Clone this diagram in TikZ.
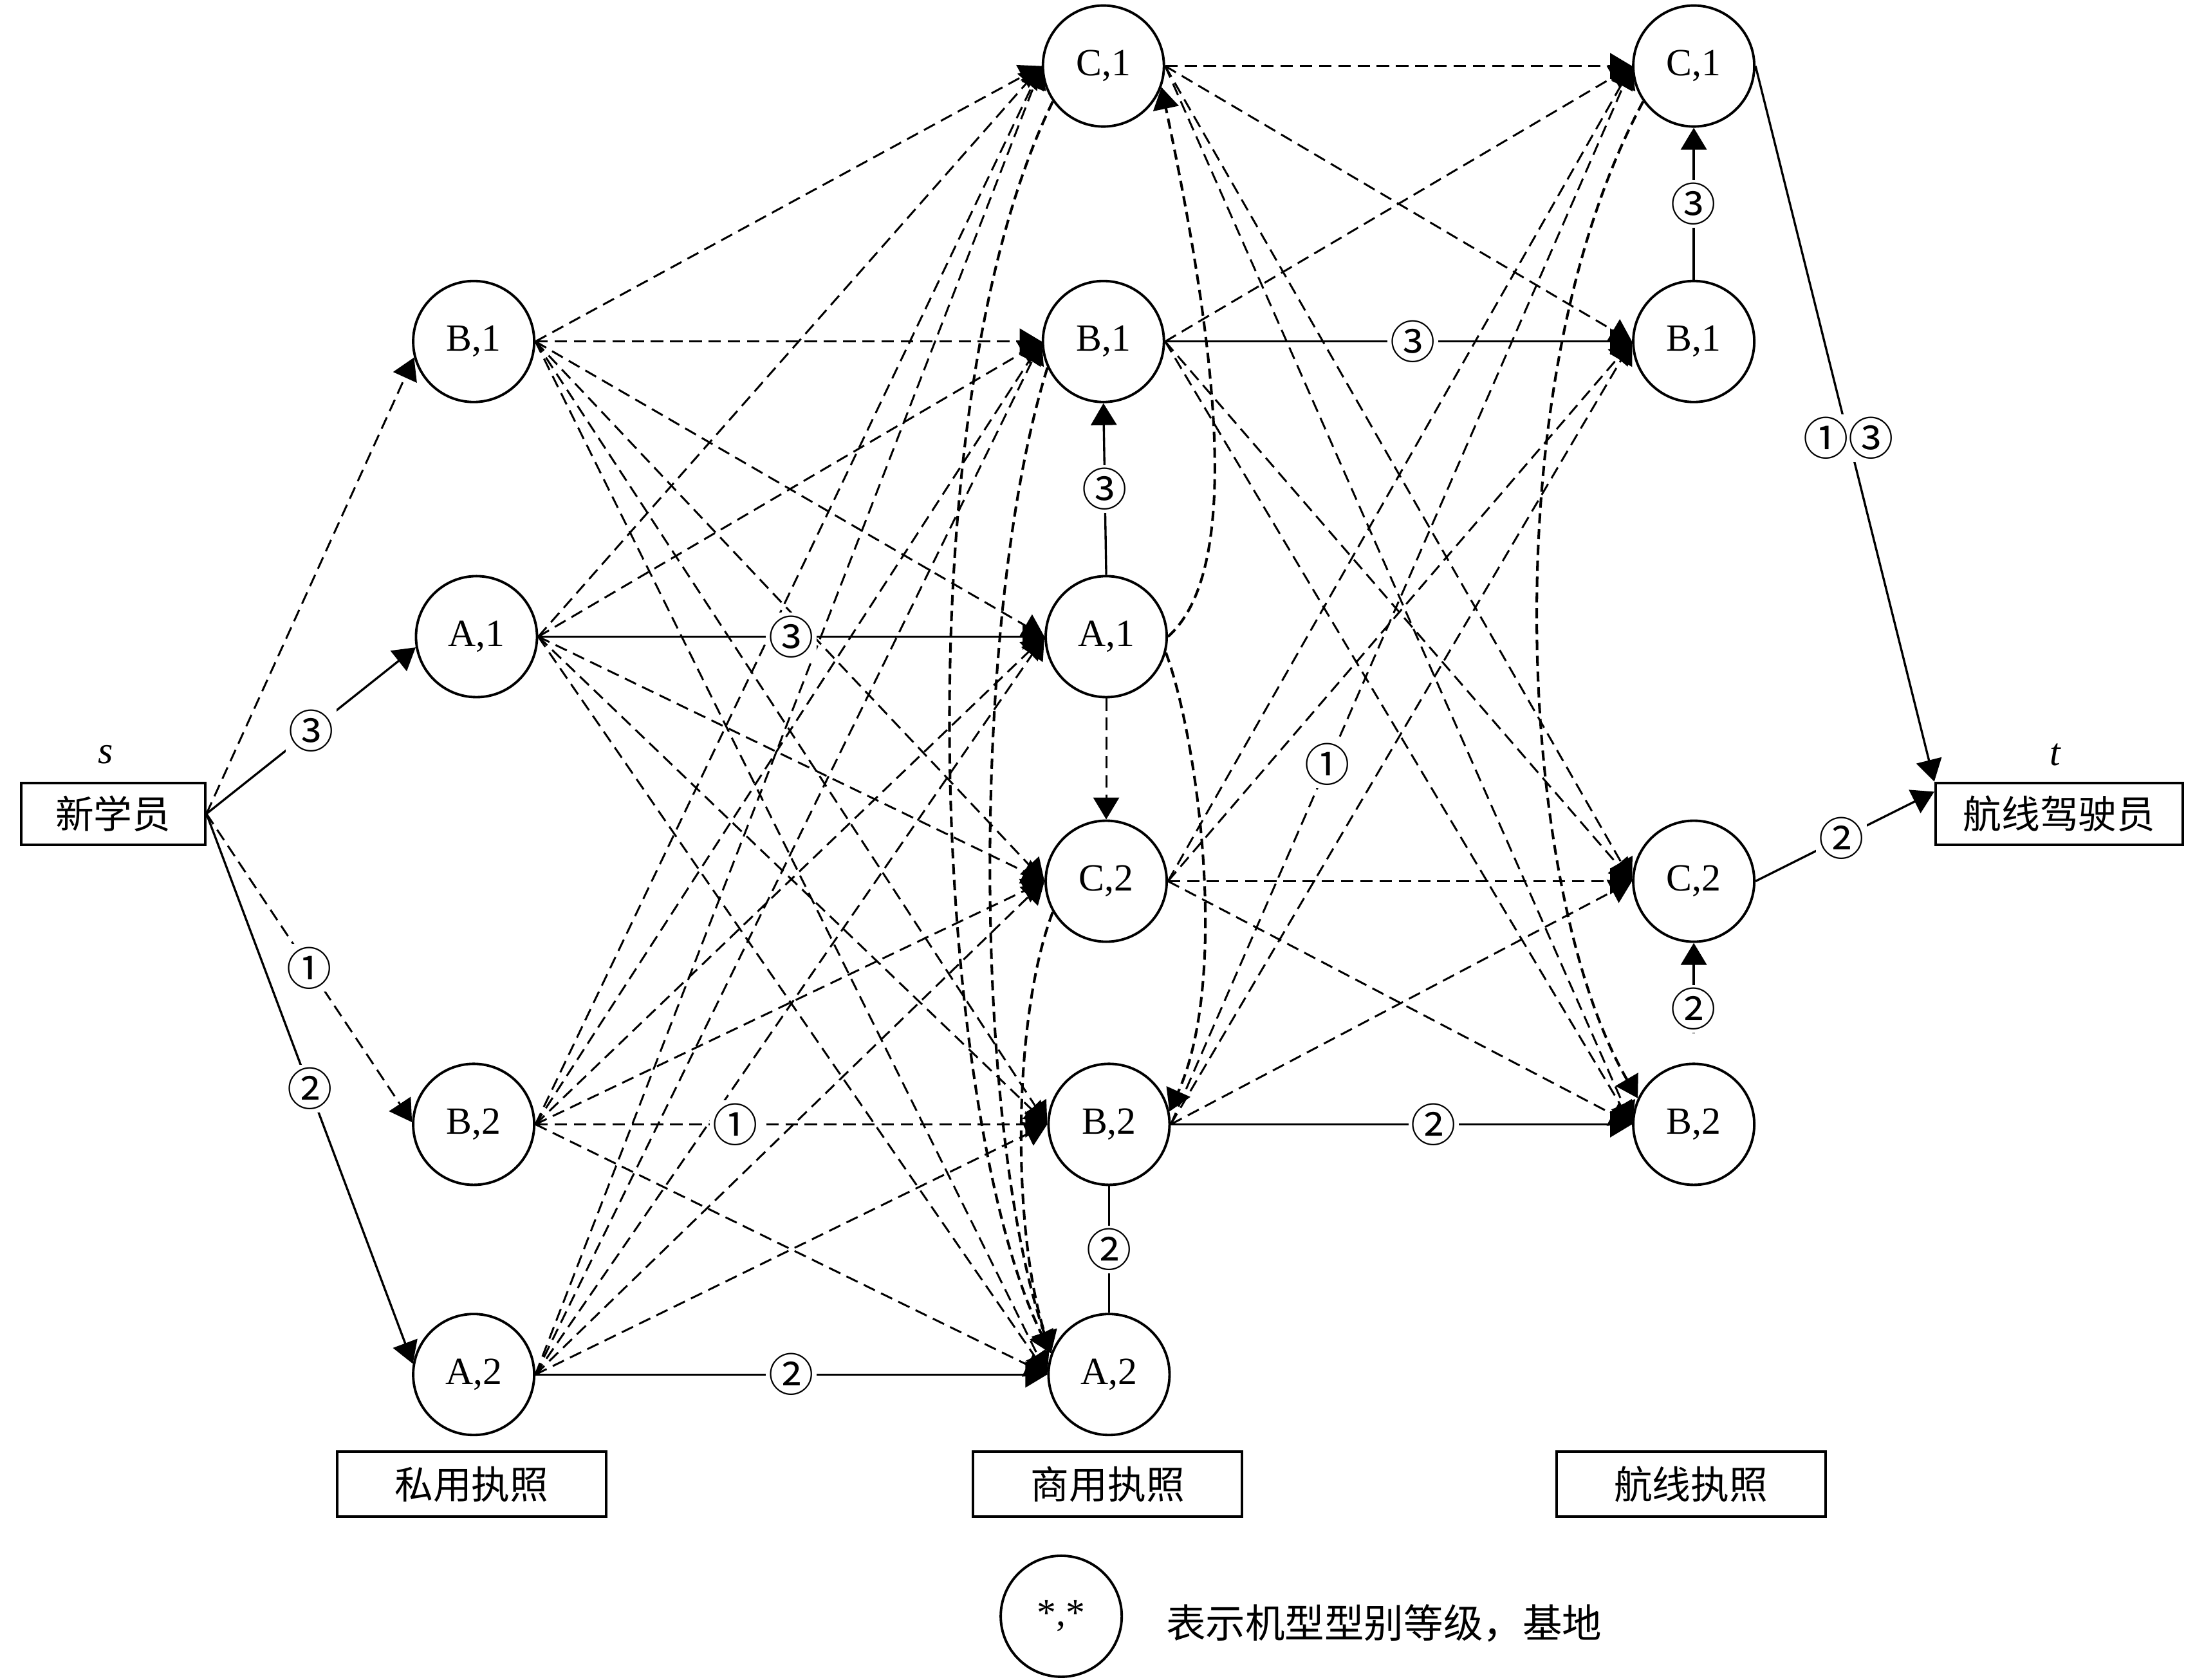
\documentclass[tikz,border=0pt]{standalone}
\usepackage{fontspec}
\setmainfont{Liberation Serif}
\newfontfamily\cjk{Noto Sans CJK SC}
\usetikzlibrary{arrows.meta}
\begin{document}
\begin{tikzpicture}[x=0.02184cm, y=0.02184cm,
  st/.style={circle, draw, line width=1.1pt, minimum size=1.88cm, inner sep=0pt, font=\fontsize{17}{20}\selectfont},
  bx/.style={draw, line width=1.1pt, inner sep=0pt, font=\cjk\fontsize{17}{20}\selectfont},
  lab/.style={fill=white, inner sep=1.2pt, font=\cjk\fontsize{20}{22}\selectfont},
  arr/.style={-{Triangle[length=0.34cm,width=0.40cm]}},
  dl/.style={arr, line width=0.85pt, dash pattern=on 5.5pt off 3pt},
  sl/.style={arr, line width=0.95pt},
  cl/.style={arr, line width=1.15pt, dash pattern=on 4.5pt off 2.5pt},
  it/.style={font=\itshape\fontsize{17}{20}\selectfont}
]
\useasboundingbox (0,0) rectangle (1568,1195);

% boxes
\node[bx, minimum width=2.861cm, minimum height=0.961cm] (s) at (80.5,616) {新学员};
\node[it] (slab) at (75,658) {s};
\node[bx, minimum width=3.844cm, minimum height=0.961cm] (t) at (1465,616) {航线驾驶员};
\node[it] (tlab) at (1462,658) {t};

% private
\node[st] (pB1) at (337,952) {B,1};
\node[st] (pA1) at (339,742) {A,1};
\node[st] (pB2) at (337,395) {B,2};
\node[st] (pA2) at (337,217) {A,2};
% commercial
\node[st] (cC1) at (785,1148) {C,1};
\node[st] (cB1) at (785,952) {B,1};
\node[st] (cA1) at (787,742) {A,1};
\node[st] (cC2) at (787,568) {C,2};
\node[st] (cB2) at (789,395) {B,2};
\node[st] (cA2) at (789,217) {A,2};
% airline
\node[st] (aC1) at (1205,1148) {C,1};
\node[st] (aB1) at (1205,952) {B,1};
\node[st] (aC2) at (1205,568) {C,2};
\node[st] (aB2) at (1205,395) {B,2};

% license boxes
\node[bx, minimum width=4.18cm, minimum height=1.005cm] (lp) at (335.5,139) {私用执照};
\node[bx, minimum width=4.18cm, minimum height=1.005cm] (lc) at (788,139) {商用执照};
\node[bx, minimum width=4.18cm, minimum height=1.005cm] (la) at (1203,139) {航线执照};

% legend
\node[st] (leg) at (755,45) {*,*};
\node[anchor=west, font=\cjk\fontsize{17.5}{20}\selectfont] (legt) at (824,40) {表示机型型别等级，基地};

% s -> private
\draw[dl] (s.east) -- (pB1.195);
\draw[sl] (s.east) -- node[lab]{③} (pA1.190);
\draw[dl] (s.east) -- node[lab]{①} (pB2.178);
\draw[sl] (s.east) -- node[lab]{②} (pA2.170);

% private -> commercial
\foreach \a/\b in {pB1/cC1,pB1/cB1,pB1/cA1,pB1/cC2,pB1/cB2,pB1/cA2,
                   pA1/cC1,pA1/cB1,pA1/cC2,pA1/cB2,pA1/cA2,
                   pB2/cC1,pB2/cB1,pB2/cA1,pB2/cC2,pB2/cA2,
                   pA2/cC1,pA2/cB1,pA2/cA1,pA2/cC2,pA2/cB2}
  {\draw[dl] (\a.east) -- (\b.west);}
\draw[sl] (pA1.east) -- node[lab]{③} (cA1.west);
\draw[dl] (pB2.east) -- node[lab, pos=0.39]{①} (cB2.west);
\draw[sl] (pA2.east) -- node[lab]{②} (cA2.west);

% commercial -> airline
\foreach \a/\b in {cC1/aC1,cC1/aB1,cC1/aC2,cC1/aB2,
                   cB1/aC1,cB1/aC2,cB1/aB2,
                   cC2/aC1,cC2/aB1,cC2/aC2,cC2/aB2,
                   cB2/aB1,cB2/aC2}
  {\draw[dl] (\a.east) -- (\b.west);}
\draw[sl] (cB1.east) -- node[lab, pos=0.53]{③} (aB1.west);
\draw[dl] (cB2.east) -- node[lab, pos=0.34]{①} (aC1.west);
\draw[sl] (cB2.east) -- node[lab, pos=0.57]{②} (aB2.west);

% within commercial
\draw[sl] (cA1.north) -- node[lab]{③} (cB1.south);
\draw[dl] (cA1.south) -- (cC2.north);
\draw[line width=0.95pt] (cA2.north) -- node[lab]{②} (cB2.south);
\draw[cl] (cA1.east) .. controls (885,790) and (865,950) .. (cC1.-20);
\draw[cl] (cA1.-15) .. controls (852,670) and (875,500) .. (cB2.12);
\draw[cl] (cC1.215) .. controls (640,900) and (665,400) .. (cA2.160);
\draw[cl] (cB1.205) .. controls (691,760) and (691,400) .. (cA2.160);
\draw[cl] (cC2.210) .. controls (720,470) and (720,320) .. (cA2.160);

% within airline
\draw[sl] (aB1.north) -- node[lab]{③} (aC1.south);
\draw[sl, shorten <=0.45cm] (aB2.north) -- node[lab, pos=0.45]{②} (aC2.south);
\draw[cl] (aC1.215) .. controls (1060,920) and (1080,560) .. (aB2.155);

% airline -> t
\draw[sl] (aC1.east) -- node[lab, pos=0.52]{①③} (t.north west);
\draw[sl] (aC2.east) -- node[lab, pos=0.48]{②} (t.170);
\end{tikzpicture}
\end{document}
